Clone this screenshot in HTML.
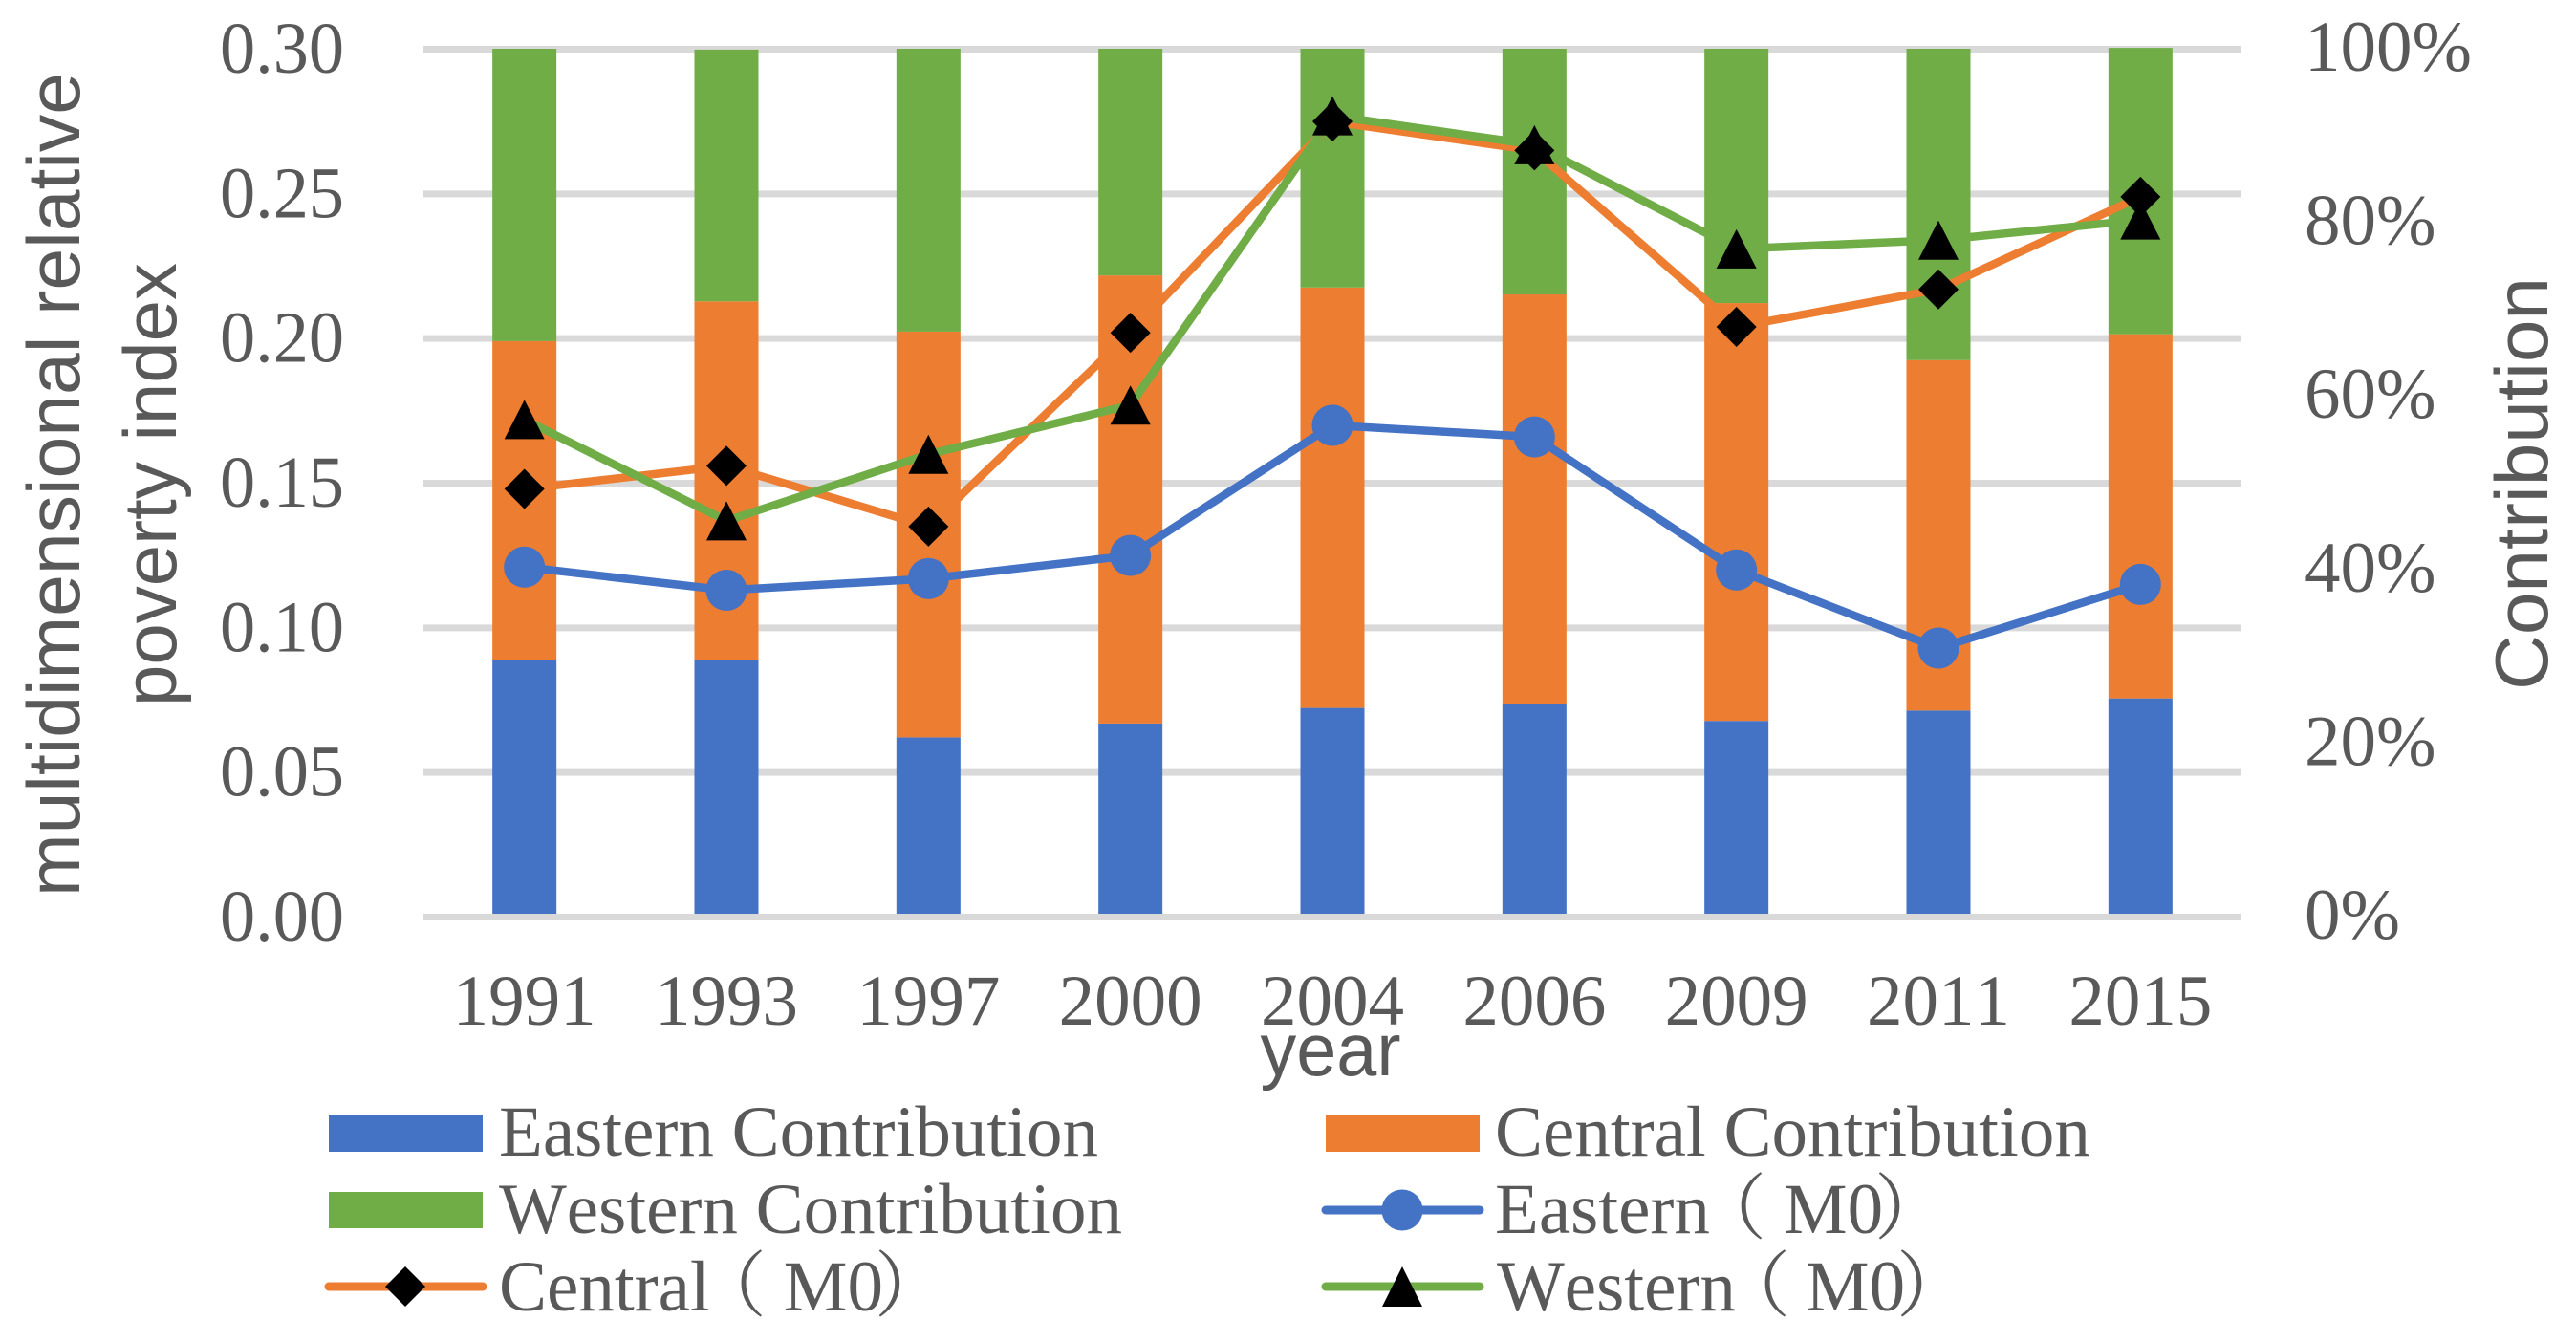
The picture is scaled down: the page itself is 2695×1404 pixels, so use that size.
<!DOCTYPE html>
<html lang="en">
<head>
<meta charset="utf-8">
<title>Multidimensional relative poverty index and contribution by region</title>
<style>
html,body{margin:0;padding:0;background:#fff;}
body{width:2695px;height:1404px;overflow:hidden;}
svg{display:block;}
.serif{font-family:"Liberation Serif","Noto Serif CJK SC",serif;fill:#595959;font-size:75px;font-kerning:none;}
.sans{font-family:"Liberation Sans","Noto Sans CJK SC",sans-serif;fill:#595959;font-size:78px;}
</style>
</head>
<body>
<svg id="chart" xmlns="http://www.w3.org/2000/svg" width="2695" height="1404" viewBox="0 0 2695 1404">
  <rect x="0" y="0" width="2695" height="1404" fill="#ffffff"/>
  <g id="grid"></g>
  <g id="bars"></g>
  <g id="lines"></g>
  <g id="markers"></g>
  <g id="axis-left"></g>
  <g id="axis-right"></g>
  <g id="axis-bottom"></g>

  <text class="sans" transform="translate(83,507) rotate(-90)" text-anchor="middle" textLength="862" lengthAdjust="spacingAndGlyphs">multidimensional relative</text>
  <text class="sans" transform="translate(184,507) rotate(-90)" text-anchor="middle" textLength="464" lengthAdjust="spacingAndGlyphs">poverty index</text>
  <text class="sans" transform="translate(2665,506) rotate(-90)" text-anchor="middle" textLength="432" lengthAdjust="spacingAndGlyphs">Contribution</text>
  <text class="sans" x="1392" y="1125" text-anchor="middle" textLength="147" lengthAdjust="spacingAndGlyphs">year</text>

  <g>
    <g>
      <rect x="344" y="1166" width="161" height="39" fill="#4472C4"/>
      <text class="serif" x="522" y="1209">Eastern Contribution</text>
    </g>
    <g>
      <rect x="1387" y="1166" width="161" height="39" fill="#ED7D31"/>
      <text class="serif" x="1564" y="1209">Central Contribution</text>
    </g>
    <g>
      <rect x="344" y="1247" width="161" height="38" fill="#70AD47"/>
      <text class="serif" x="522" y="1290">Western Contribution</text>
    </g>
    <g>
      <line x1="1387" y1="1266" x2="1548" y2="1266" stroke="#4472C4" stroke-width="9" stroke-linecap="round"/>
      <circle cx="1467" cy="1266" r="21.5" fill="#4472C4"/>
      <text class="serif" x="1564" y="1290">Eastern<tspan dx="-16">（</tspan><tspan dx="18">M0</tspan><tspan dx="-9">）</tspan></text>
    </g>
    <g>
      <line x1="344" y1="1346" x2="505" y2="1346" stroke="#ED7D31" stroke-width="9" stroke-linecap="round"/>
      <polygon points="424,1325 445,1346 424,1367 403,1346" fill="#000"/>
      <text class="serif" x="522" y="1371">Central<tspan dx="-16">（</tspan><tspan dx="18">M0</tspan><tspan dx="-9">）</tspan></text>
    </g>
    <g>
      <line x1="1387" y1="1346" x2="1548" y2="1346" stroke="#70AD47" stroke-width="9" stroke-linecap="round"/>
      <polygon points="1467,1325 1488,1367 1446,1367" fill="#000"/>
      <text class="serif" x="1566" y="1371">Western<tspan dx="-18">（</tspan><tspan dx="16">M0</tspan><tspan dx="-9">）</tspan></text>
    </g>
  </g>
</svg>
<script>
const categories = ["1991","1993","1997","2000","2004","2006","2009","2011","2015"];

const easternContribution = [29.3,29.3,20.4,22.0,23.8,24.2,22.3,23.5,24.9];
const centralContribution = [36.9,41.5,46.9,51.8,48.6,47.4,48.3,40.5,42.1];
const westernContribution = [33.8,29.1,32.7,26.2,27.6,28.4,29.4,36.0,33.1];

const easternM0 = [0.121,0.113,0.117,0.125,0.170,0.166,0.120,0.093,0.115];
const centralM0 = [0.148,0.156,0.135,0.202,0.275,0.265,0.204,0.217,0.249];
const westernM0 = [0.172,0.137,0.160,0.177,0.277,0.267,0.231,0.234,0.241];

const leftTicks = ["0.00","0.05","0.10","0.15","0.20","0.25","0.30"];
const rightTicks = ["0%","20%","40%","60%","80%","100%"];

const NS = "http://www.w3.org/2000/svg";
const plotLeft = 443, plotRight = 2345;
const xBand = (plotRight - plotLeft) / categories.length;

function xPos(i){ return plotLeft + xBand * (i + 0.5); }
function yValue(v){ return 959.5 - (v / 0.30) * 908; }
function yShare(p){ return 956 - (p / 100) * 905; }

function make(tag, attrs, parentId){
  const el = document.createElementNS(NS, tag);
  Object.keys(attrs).forEach(function(k){ el.setAttribute(k, attrs[k]); });
  document.getElementById(parentId).appendChild(el);
  return el;
}

leftTicks.forEach(function(t){
  const y = yValue(parseFloat(t));
  const line = make("line", {x1:plotLeft, x2:plotRight, y1:y, y2:y, stroke:"#D9D9D9", "stroke-width":7}, "grid");
  
  
  const label = make("text", {x:360, y:y + 24.5, "text-anchor":"end", "class":"serif", style:"font-size:76px", textLength:130, lengthAdjust:"spacingAndGlyphs"}, "axis-left");
  label.textContent = t;
  
  
});

rightTicks.forEach(function(t){
  const y = yValue(parseFloat(t) * 0.003);
  const label = make("text", {x:2411, y:y + 22.5, "class":"serif", style:"font-size:75px"}, "axis-right");
  label.textContent = t;
  
  
});

categories.forEach(function(c, i){
  const label = make("text", {x:xPos(i), y:1072, "text-anchor":"middle", "class":"serif", style:"font-size:75px"}, "axis-bottom");
  label.textContent = c;
  
  

  const barW = 67;
  const stack = [
    ["eastern", easternContribution[i], "#4472C4"],
    ["central", centralContribution[i], "#ED7D31"],
    ["western", westernContribution[i], "#70AD47"]
  ];
  let base = 0;
  stack.forEach(function(s){
    const top = base + s[1];
    const bar = make("rect", {x:xPos(i) - barW / 2, y:yShare(top), width:barW, height:yShare(base) - yShare(top), fill:s[2]}, "bars");
    
    
    base = top;
  });
});

function drawLine(values, color, key){
  const pts = values.map(function(v, i){ return xPos(i) + "," + yValue(v); }).join(" ");
  const line = make("polyline", {points:pts, fill:"none", stroke:color, "stroke-width":8.5, "stroke-linejoin":"round", "stroke-linecap":"round"}, "lines");
  
  
}
drawLine(easternM0, "#4472C4", "eastern-m0");
drawLine(centralM0, "#ED7D31", "central-m0");
drawLine(westernM0, "#70AD47", "western-m0");

easternM0.forEach(function(v, i){
  const m = make("circle", {cx:xPos(i), cy:yValue(v), r:21.5, fill:"#4472C4"}, "markers");
  
  
});
centralM0.forEach(function(v, i){
  const x = xPos(i), y = yValue(v), r = 21;
  const m = make("polygon", {points:[x+","+(y-r), (x+r)+","+y, x+","+(y+r), (x-r)+","+y].join(" "), fill:"#000"}, "markers");
  
  
});
westernM0.forEach(function(v, i){
  const x = xPos(i), y = yValue(v), h = 20.5, w = 21;
  const m = make("polygon", {points:[x+","+(y-h), (x+w)+","+(y+h), (x-w)+","+(y+h)].join(" "), fill:"#000"}, "markers");
  
  
});
</script>
</body>
</html>
